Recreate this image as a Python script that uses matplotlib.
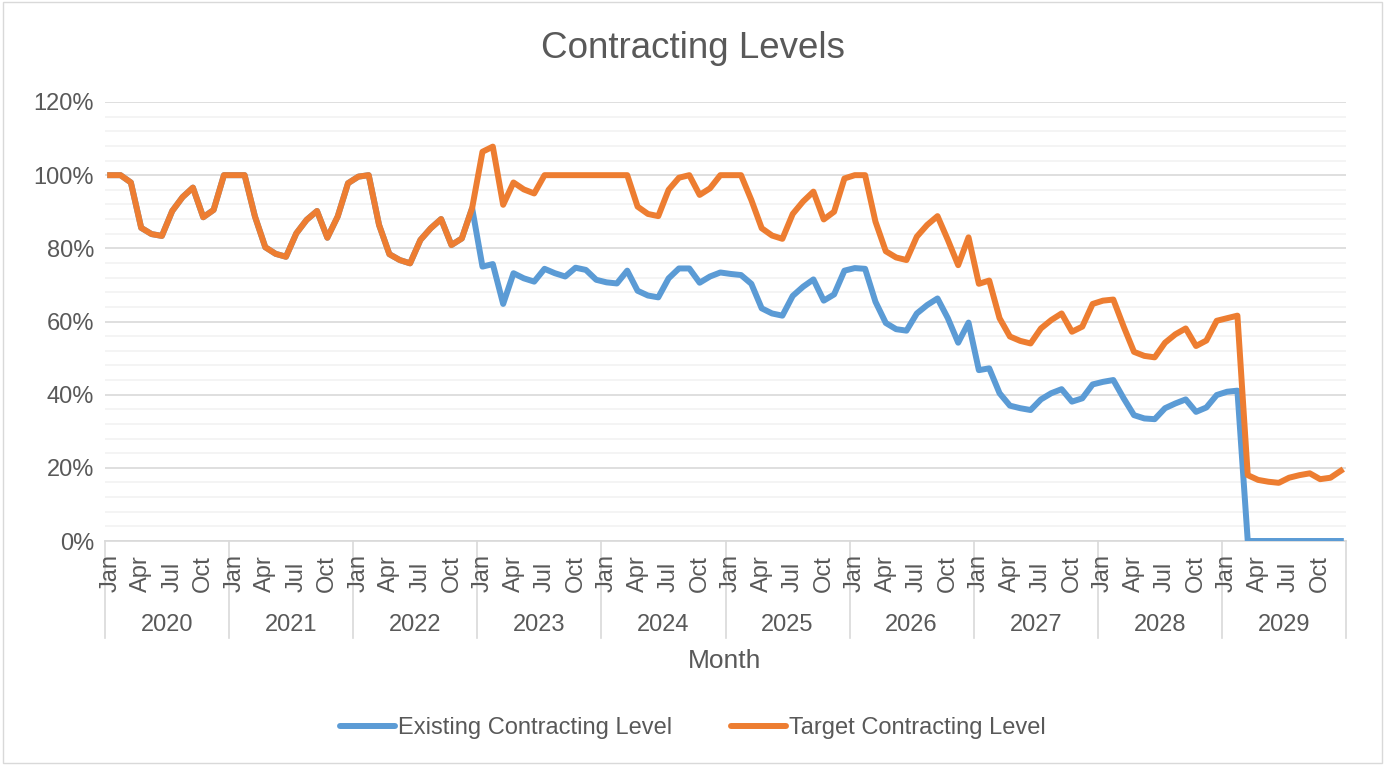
import numpy as np
import matplotlib
matplotlib.use('Agg')
import matplotlib.pyplot as plt
import matplotlib.transforms as mtransforms
from matplotlib.patches import Rectangle
from matplotlib.ticker import MultipleLocator, FuncFormatter

# monthly values in percent, Jan 2020 .. Dec 2029
target = [
    100, 100, 98, 85.6, 83.9, 83.4, 90.2, 94, 96.6, 88.5, 90.5, 100,        # 2020
    100, 100, 88.7, 80.3, 78.5, 77.7, 84.1, 87.8, 90.2, 82.9, 88.7, 97.8,   # 2021
    99.6, 100, 86.4, 78.4, 76.8, 75.9, 82.3, 85.5, 88, 80.9, 82.7, 91,      # 2022
    106.4, 107.8, 91.9, 98, 96.1, 95, 100, 100, 100, 100, 100, 100,         # 2023
    100, 100, 100, 91.4, 89.4, 88.8, 96, 99.3, 100, 94.6, 96.4, 100,        # 2024
    100, 100, 93.2, 85.5, 83.5, 82.6, 89.4, 92.8, 95.5, 87.9, 90, 99.1,     # 2025
    100, 100, 87.3, 79.2, 77.5, 76.8, 83.2, 86.4, 88.8, 82.3, 75.4, 83,     # 2026
    70.3, 71.2, 60.9, 55.9, 54.7, 54, 58.1, 60.4, 62.2, 57.2, 58.6, 64.8,   # 2027
    65.7, 66, 58.6, 51.7, 50.6, 50.2, 54.2, 56.5, 58.1, 53.3, 54.8, 60.2,   # 2028
    60.9, 61.6, 18, 16.7, 16.2, 15.9, 17.3, 18, 18.5, 16.9, 17.3, 19.2,     # 2029
]
existing = [
    100, 100, 98, 85.6, 83.9, 83.4, 90.2, 94, 96.6, 88.5, 90.5, 100,        # 2020
    100, 100, 88.7, 80.3, 78.5, 77.7, 84.1, 87.8, 90.2, 82.9, 88.7, 97.8,   # 2021
    99.6, 100, 86.4, 78.4, 76.8, 75.9, 82.3, 85.5, 88, 80.9, 82.7, 91,      # 2022
    75.0, 75.7, 64.8, 73.2, 71.8, 70.9, 74.4, 73.2, 72.3, 74.7, 74.1, 71.4, # 2023
    70.7, 70.4, 73.9, 68.4, 67.1, 66.6, 71.8, 74.5, 74.5, 70.6, 72.3, 73.4, # 2024
    73.0, 72.7, 70.3, 63.6, 62.2, 61.6, 67.0, 69.5, 71.5, 65.7, 67.4, 73.9, # 2025
    74.6, 74.4, 65.4, 59.6, 57.9, 57.5, 62.2, 64.5, 66.3, 60.9, 54.2, 59.7, # 2026
    46.7, 47.2, 40.4, 37.0, 36.3, 35.8, 38.7, 40.4, 41.5, 38.1, 39.0, 42.8, # 2027
    43.5, 44.0, 39.0, 34.4, 33.5, 33.3, 36.3, 37.6, 38.7, 35.3, 36.5, 39.9, # 2028
    40.8, 41.1, 0, 0, 0, 0, 0, 0, 0, 0, 0, 0,                               # 2029
]
years = ['2020', '2021', '2022', '2023', '2024', '2025', '2026', '2027', '2028', '2029']
month_labels = ['Jan', '', '', 'Apr', '', '', 'Jul', '', '', 'Oct', '', '']

BLUE = '#5B9BD5'
ORANGE = '#ED7D31'
TXT = '#595959'

plt.rcParams['font.family'] = ['Liberation Sans', 'DejaVu Sans']

fig = plt.figure(figsize=(13.86, 7.65), dpi=100)
fig.patches.append(Rectangle((0.002, 0.003), 0.995, 0.994, transform=fig.transFigure,
                             fill=False, edgecolor='#D9D9D9', linewidth=1))
ax = fig.add_axes([105 / 1386, 1 - 541 / 765, (1346 - 105) / 1386, (541 - 102) / 765])

n = len(target)
x = np.arange(n)
ax.plot(x, np.array(existing) / 100, color=BLUE, lw=4.3, solid_joinstyle='round', zorder=3)
ax.plot(x, np.array(target) / 100, color=ORANGE, lw=4.3, solid_joinstyle='round', zorder=4)

ax.set_xlim(-0.5, n - 0.5)
ax.set_ylim(0, 1.2)
ax.yaxis.set_major_locator(MultipleLocator(0.2))
ax.yaxis.set_minor_locator(MultipleLocator(0.04))
ax.yaxis.set_major_formatter(FuncFormatter(lambda v, p: f'{v * 100:.0f}%'))
ax.grid(which='major', axis='y', color='#D9D9D9', lw=1.2, zorder=1)
ax.grid(which='minor', axis='y', color='#F2F2F2', lw=1.2, zorder=0)
ax.tick_params(axis='y', which='both', length=0, labelsize=17, labelcolor=TXT, pad=8)
ax.set_xticks([])
for s in ['top', 'right', 'left']:
    ax.spines[s].set_visible(False)
ax.spines['bottom'].set_color('#D9D9D9')
ax.spines['bottom'].set_linewidth(1.2)

# two-level category axis
trans = mtransforms.blended_transform_factory(ax.transData, ax.transAxes)
for i in range(n):
    lab = month_labels[i % 12]
    if lab:
        ax.text(i, -0.116, lab, transform=trans, rotation=90, ha='center', va='bottom',
                fontsize=17, color=TXT)
for k, yr in enumerate(years):
    ax.text(12 * k + 5.5, -0.191, yr, transform=trans, ha='center', va='center',
            fontsize=17, color=TXT)
for k in range(len(years) + 1):
    ax.plot([12 * k - 0.5, 12 * k - 0.5], [0, -0.221], transform=trans, color='#D9D9D9',
            lw=1.2, clip_on=False)

fig.text(0.5, 1 - 49 / 765, 'Contracting Levels', ha='center', va='center', fontsize=26.5, color=TXT)
fig.text(725 / 1386, 1 - 661 / 765, 'Month', ha='center', va='center', fontsize=19, color=TXT)

h1, = ax.plot([], [], color=BLUE, lw=4.3, solid_capstyle='round')
h2, = ax.plot([], [], color=ORANGE, lw=4.3, solid_capstyle='round')
fig.legend([h1, h2], ['Existing Contracting Level', 'Target Contracting Level'],
           loc='center', bbox_to_anchor=(0.5, 1 - 728 / 765), ncol=2, frameon=False,
           fontsize=17, labelcolor=TXT, handlelength=2.3, handletextpad=0.15, columnspacing=2.5)

fig.savefig('out.png', dpi=100)
